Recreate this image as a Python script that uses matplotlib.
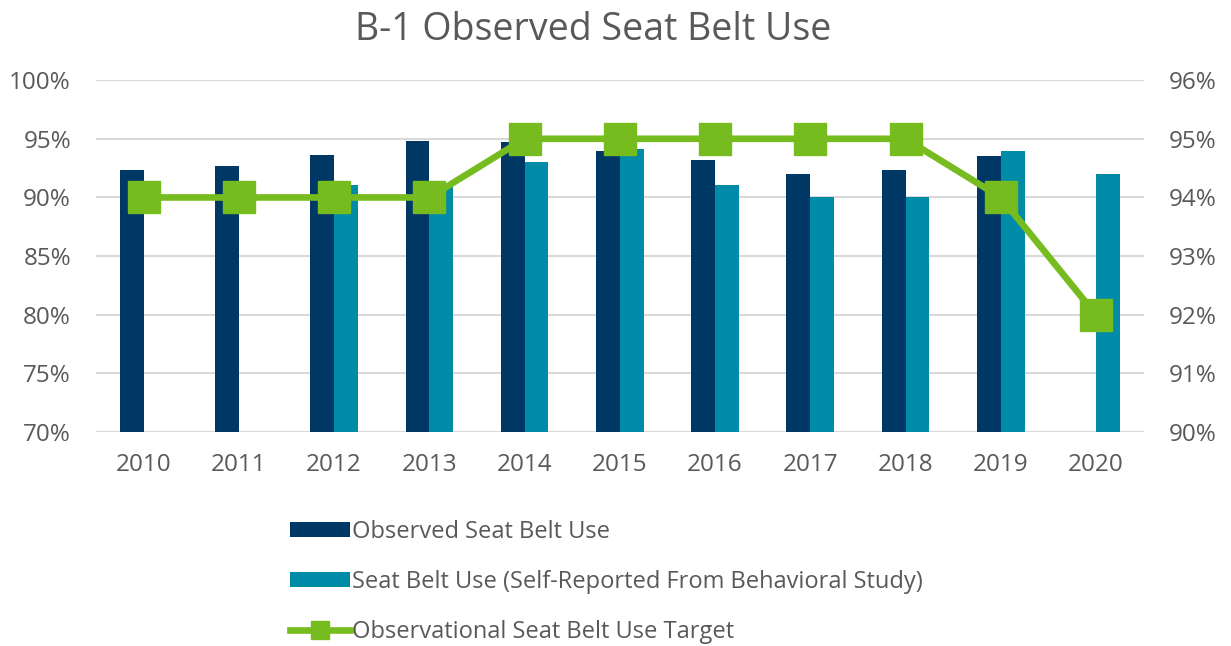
import numpy as np
import matplotlib.pyplot as plt
from matplotlib.ticker import FuncFormatter

years = ['2010', '2011', '2012', '2013', '2014', '2015', '2016', '2017', '2018', '2019', '2020']
observed = [92.3, 92.7, 93.6, 94.8, 94.7, 94.0, 93.2, 92.0, 92.3, 93.5, np.nan]
self_reported = [np.nan, np.nan, 91.1, 91.0, 93.0, 94.1, 91.1, 90.0, 90.0, 94.0, 92.0]
target = [94, 94, 94, 94, 95, 95, 95, 95, 95, 94, 92]

plt.rcParams['font.family'] = ['Open Sans', 'DejaVu Sans']
grey = '#595959'

fig = plt.figure(figsize=(12.31, 6.46), dpi=100)
ax = fig.add_axes([0.078, 0.331, 0.851, 0.545])
ax2 = ax.twinx()

x = np.arange(len(years))
w = 0.25
ax.bar(x - w / 2, observed, width=w, color='#003865', zorder=2, label='Observed Seat Belt Use')
ax.bar(x + w / 2, self_reported, width=w, color='#008CA8', zorder=2,
       label='Seat Belt Use (Self-Reported From Behavioral Study)')
ax2.plot(x, target, color='#77BC1F', lw=4.8, marker='s', ms=23, zorder=3,
         label='Observational Seat Belt Use Target')

ax.set_ylim(70, 100)
ax.set_yticks(range(70, 101, 5))
ax2.set_ylim(90, 96)
ax2.set_yticks(range(90, 97))
pct = FuncFormatter(lambda v, p: f'{v:.0f}%')
ax.yaxis.set_major_formatter(pct)
ax2.yaxis.set_major_formatter(pct)
ax.set_xlim(-0.5, len(years) - 0.5)
ax.set_xticks(x)
ax.set_xticklabels(years)

ax.grid(axis='y', color='#D9D9D9', lw=1.5, zorder=0)
ax.set_axisbelow(True)
for a in (ax, ax2):
    for s in a.spines.values():
        s.set_visible(False)
    a.tick_params(length=0, labelsize=17.5, colors=grey, pad=18)
ax.tick_params(axis='x', pad=15)

fig.suptitle('B-1 Observed Seat Belt Use', fontsize=27, color=grey, x=0.482, y=0.983)

h1, l1 = ax.get_legend_handles_labels()
h2, l2 = ax2.get_legend_handles_labels()
fig.legend(h1 + h2, l1 + l2, loc='upper left', bbox_to_anchor=(0.218, 0.228),
           frameon=False, fontsize=17, labelcolor=grey, handlelength=2.55,
           handleheight=0.55, handletextpad=0.1, labelspacing=1.1, markerscale=0.55)

fig.savefig('out.png', dpi=100)
